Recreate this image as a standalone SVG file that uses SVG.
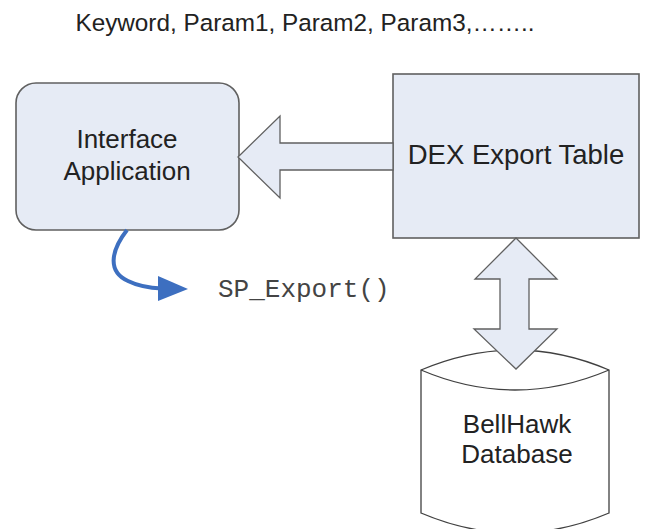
<svg xmlns="http://www.w3.org/2000/svg" width="645" height="529" viewBox="0 0 645 529">
<style>
.box{fill:#e6ebf5;stroke:#606060;stroke-width:1.6}
.fat{fill:#e6ebf5;stroke:#606060;stroke-width:1.3;stroke-linejoin:miter}
.lbl{font-family:"Liberation Sans",Arial,sans-serif;font-size:26px;fill:#222;text-anchor:middle}
</style>
<rect width="645" height="529" fill="#ffffff"/>
<text x="305" y="31" style="font-family:'Liberation Sans',Arial,sans-serif;font-size:24.3px;fill:#222;text-anchor:middle">Keyword, Param1, Param2, Param3,……..</text>
<g id="interface-application">
<rect class="box" x="16" y="83" width="223" height="147" rx="20" ry="20"/>
<text class="lbl" x="127" y="148">Interface</text>
<text class="lbl" x="127" y="180">Application</text>
</g>
<g id="dex-export-table">
<rect class="box" x="393" y="74" width="246" height="164"/>
<text class="lbl" x="516" y="164" style="font-size:27.5px">DEX Export Table</text>
</g>
<g id="bellhawk-database">
<path d="M421,370 Q515,330 609,370 L609,513 Q515,553 421,513 Z" fill="#ffffff" stroke="#404040" stroke-width="1.3"/>
<path d="M421,370 Q515,410 609,370" fill="none" stroke="#404040" stroke-width="1.3"/>
<text class="lbl" x="517" y="433">BellHawk</text>
<text class="lbl" x="517" y="463">Database</text>
</g>
<g id="connectors">
<polygon class="fat" points="393,143 280,143 280,116 238,157 280,198 280,170 393,170"/>
<polygon class="fat" points="516,238 557,279 529,279 529,329 557,329 516,369 474,329 500,329 500,279 475,279"/>
<path d="M127,230 C110,252 108,272 128,281 C138,286 150,288 162,288.5" fill="none" stroke="#3d6fc0" stroke-width="4"/>
<polygon points="158,276 188,289 158,301" fill="#3d6fc0"/>
</g>
<text x="218" y="297" style="font-family:'Liberation Mono','Courier New',monospace;font-size:26px;fill:#444">SP_Export()</text>
</svg>
